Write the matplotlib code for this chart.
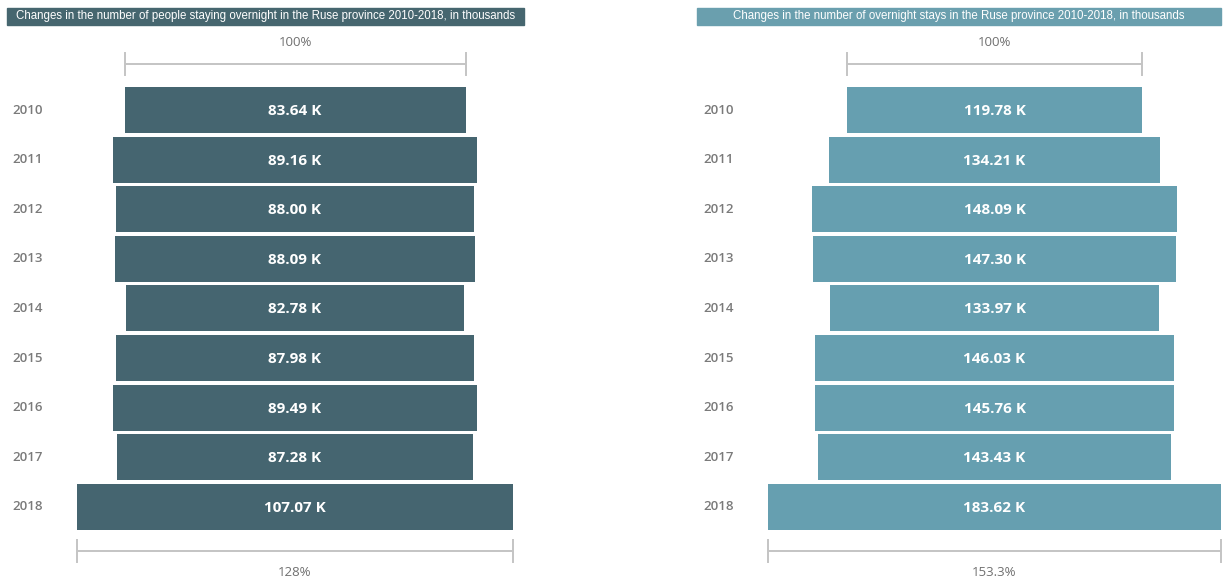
import matplotlib.pyplot as plt
from matplotlib.patches import Rectangle
from matplotlib.transforms import blended_transform_factory

# Werte aus dem Bild (Tausend)
years = ["2010", "2011", "2012", "2013", "2014", "2015", "2016", "2017", "2018"]
people = [83.64, 89.16, 88.00, 88.09, 82.78, 87.98, 89.49, 87.28, 107.07]
stays = [119.78, 134.21, 148.09, 147.30, 133.97, 146.03, 145.76, 143.43, 183.62]

title_people = "Changes in the number of people staying overnight in the Ruse province 2010-2018, in thousands"
title_stays = "Changes in the number of overnight stays in the Ruse province 2010-2018, in thousands"

W, H = 1225, 582
fig = plt.figure(figsize=(W / 100, H / 100), dpi=100)

# y: Zeile i liegt bei Pixel 110 + 49.6*i (von oben)
Y0, STEP = 110, 49.6
ylim = ((H - Y0) / STEP, -Y0 / STEP)


def py(p):
    """Pixel (von oben) -> Zeilenkoordinate."""
    return (p - Y0) / STEP


def pct_label(r):
    s = f"{r * 100:.1f}"
    if s.endswith(".0"):
        s = s[:-2]
    return s + "%"


def panel(x0, x1, center, scale, values, color, title, box_color):
    ax = fig.add_axes([x0 / W, 0, (x1 - x0) / W, 1])
    ax.set_xlim((x0 - center) / scale, (x1 - center) / scale)
    ax.set_ylim(*ylim)
    ax.axis("off")

    pos = list(range(len(values)))
    lefts = [-v / 2 for v in values]
    ax.barh(pos, values, left=lefts, height=0.93, color=color)
    for i, v in enumerate(values):
        ax.text(0, i + 0.02, f"{v:.2f} K", ha="center", va="center", color="white",
                fontsize=11, fontweight="bold", family="Open Sans")

    tr = blended_transform_factory(ax.transAxes, ax.transData)
    for i, y in enumerate(years):
        ax.text(0.053, i, y, transform=tr, ha="center", va="center",
                color="#7a7a7a", fontsize=9.5, fontweight="semibold", family="Open Sans")

    # Klammern oben (Basisjahr) und unten (letztes Jahr)
    gray = "#c4c4c4"
    first, last = values[0], values[-1]
    for v, yl, (t0, t1), ylab, lab in [
        (first, py(64), (py(53), py(75)), py(43), "100%"),
        (last, py(551), (py(540), py(562)), py(573), pct_label(last / first)),
    ]:
        ax.plot([-v / 2, v / 2], [yl, yl], color=gray, lw=1.4, solid_capstyle="butt")
        ax.plot([-v / 2, -v / 2], [t0, t1], color=gray, lw=1.4)
        ax.plot([v / 2, v / 2], [t0, t1], color=gray, lw=1.4)
        ax.text(0, ylab, lab, ha="center", va="center", color="#707070",
                fontsize=9.5, family="Open Sans")

    # Titelbox
    bx0, bx1 = x0 + 7, x1 - 4
    fig.patches.append(Rectangle((bx0 / W, 1 - 25 / H), (bx1 - bx0) / W, 17 / H,
                                 transform=fig.transFigure, color=box_color))
    fig.text((bx0 + bx1) / 2 / W, 1 - 16.5 / H, title, ha="center", va="center",
             color="white", fontsize=8.3, family="Liberation Sans")


panel(0, 528, 295, 341 / 83.64, people, "#456570", title_people, "#46666f")
panel(690, 1225, 994.5, 295 / 119.78, stays, "#669fb0", title_stays, "#6a9fae")

fig.savefig("out.png", dpi=100)
